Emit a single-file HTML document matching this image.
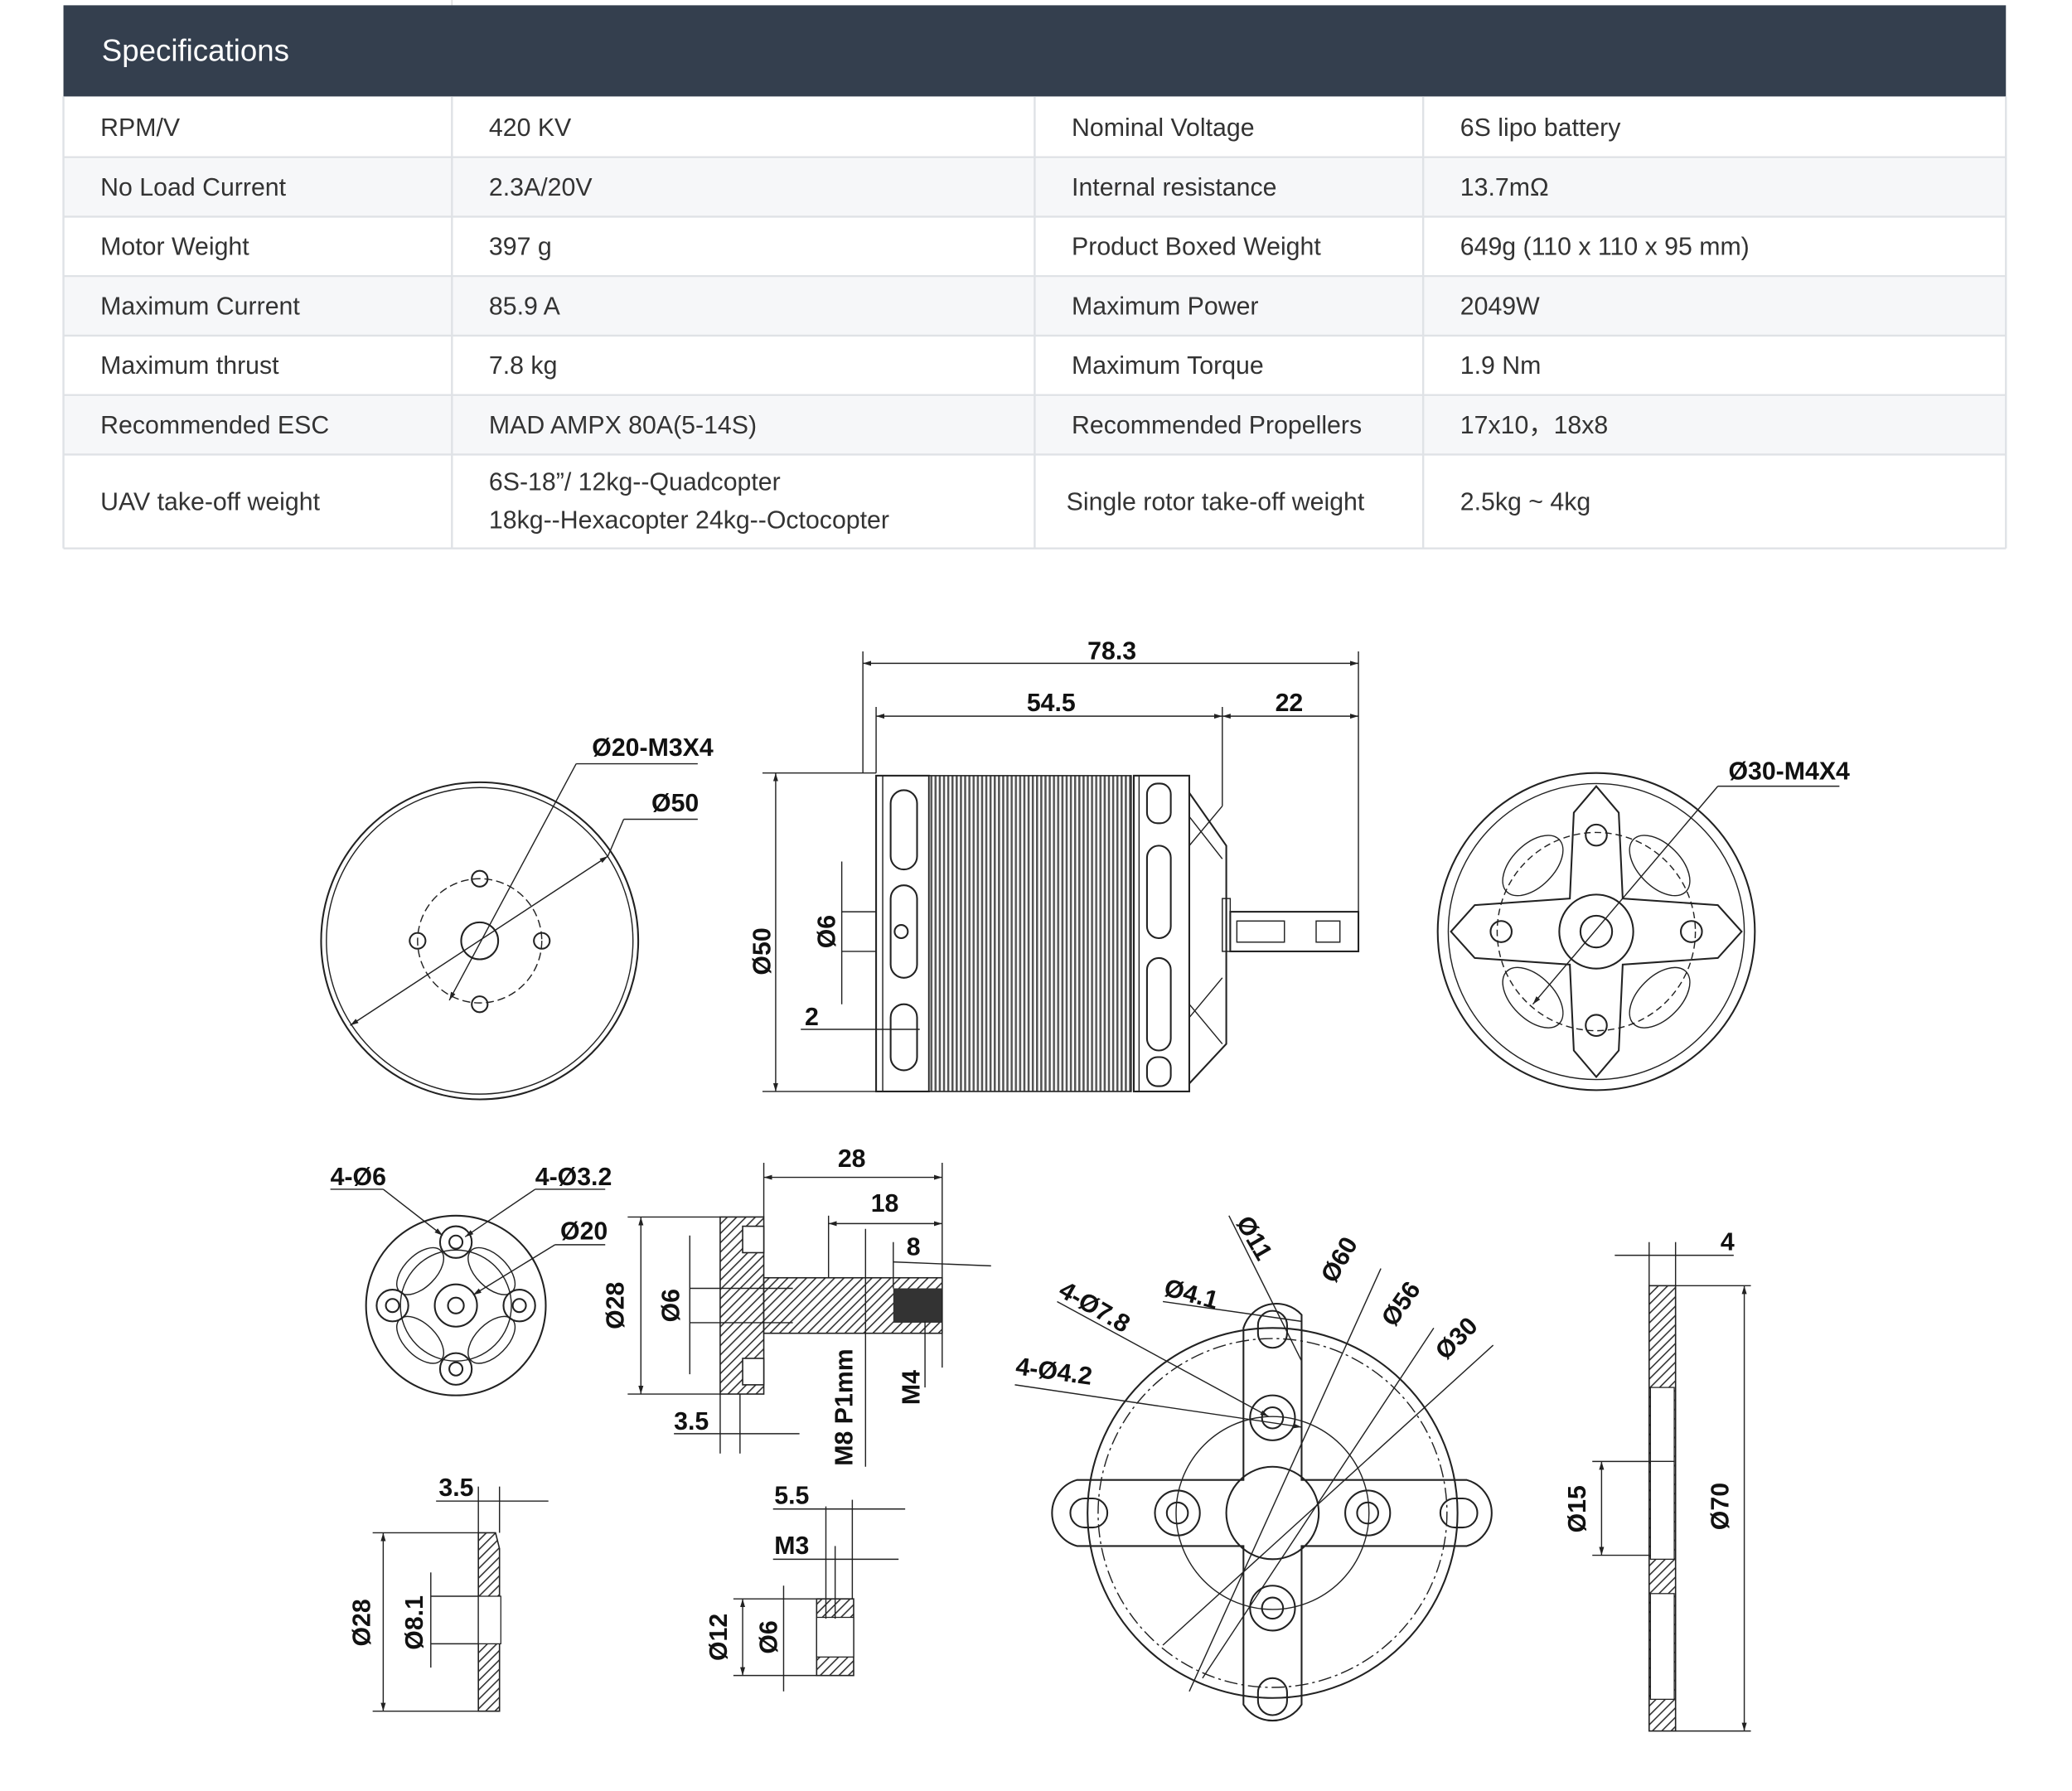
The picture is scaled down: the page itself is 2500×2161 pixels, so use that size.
<!DOCTYPE html>
<html><head><meta charset="utf-8"><style>
html,body{margin:0;padding:0;background:#fff;}
svg{display:block;}
.t{font-family:"Liberation Sans",sans-serif;font-size:19px;fill:#333;}
.d{font-family:"Liberation Sans",sans-serif;font-size:19px;font-weight:bold;fill:#111;}
.l{stroke:#222;stroke-width:1.3;fill:none;}
.th{stroke:#222;stroke-width:0.9;fill:none;}
</style></head><body>
<svg width="2500" height="2161" viewBox="0 0 1568 1355.4" xmlns="http://www.w3.org/2000/svg">
<defs>
<pattern id="fins" width="3.2" height="10" patternUnits="userSpaceOnUse"><rect width="3.2" height="10" fill="#fff"/><rect width="1.6" height="10" fill="#555"/></pattern>
<pattern id="hatch" width="5" height="5" patternUnits="userSpaceOnUse" patternTransform="rotate(45)"><rect width="5" height="5" fill="#fff"/><rect width="1" height="5" fill="#333"/></pattern>
<marker id="a" viewBox="0 0 10 10" refX="10" refY="5" markerWidth="7" markerHeight="7" orient="auto-start-reverse"><path d="M0,2 L10,5 L0,8z" fill="#222"/></marker>
</defs>
<!-- table -->
<line x1="342" y1="0" x2="342" y2="4" stroke="#ddd"/>
<rect x="48" y="4" width="1470" height="69" fill="#343f4e"/>
<text x="77" y="46" style="font-family:'Liberation Sans',sans-serif;font-size:23px;fill:#fff">Specifications</text>
<g fill="#f6f7f9"><rect x="48" y="120" width="1470" height="44"/><rect x="48" y="210" width="1470" height="44"/><rect x="48" y="300" width="1470" height="44"/></g>
<g stroke="#dfe2e6" stroke-width="1.5">
<line x1="48" y1="119" x2="1518" y2="119"/><line x1="48" y1="164" x2="1518" y2="164"/><line x1="48" y1="209" x2="1518" y2="209"/><line x1="48" y1="254" x2="1518" y2="254"/><line x1="48" y1="299" x2="1518" y2="299"/><line x1="48" y1="344" x2="1518" y2="344"/><line x1="48" y1="415" x2="1518" y2="415"/>
<line x1="48" y1="73" x2="48" y2="415"/><line x1="342" y1="73" x2="342" y2="415"/><line x1="783" y1="73" x2="783" y2="415"/><line x1="1077" y1="73" x2="1077" y2="415"/><line x1="1518" y1="73" x2="1518" y2="415"/>
</g>
<g class="t">
<text x="76" y="103">RPM/V</text><text x="370" y="103">420 KV</text><text x="811" y="103">Nominal Voltage</text><text x="1105" y="103">6S lipo battery</text>
<text x="76" y="148">No Load Current</text><text x="370" y="148">2.3A/20V</text><text x="811" y="148">Internal resistance</text><text x="1105" y="148">13.7mΩ</text>
<text x="76" y="193">Motor Weight</text><text x="370" y="193">397 g</text><text x="811" y="193">Product Boxed Weight</text><text x="1105" y="193">649g (110 x 110 x 95 mm)</text>
<text x="76" y="238">Maximum Current</text><text x="370" y="238">85.9 A</text><text x="811" y="238">Maximum Power</text><text x="1105" y="238">2049W</text>
<text x="76" y="283">Maximum thrust</text><text x="370" y="283">7.8 kg</text><text x="811" y="283">Maximum Torque</text><text x="1105" y="283">1.9 Nm</text>
<text x="76" y="328">Recommended ESC</text><text x="370" y="328">MAD AMPX 80A(5-14S)</text><text x="811" y="328">Recommended Propellers</text><text x="1105" y="328">17x10，18x8</text>
<text x="76" y="386">UAV take-off weight</text><text x="370" y="371">6S-18”/ 12kg--Quadcopter</text><text x="370" y="400">18kg--Hexacopter  24kg--Octocopter</text><text x="807" y="386">Single rotor take-off weight</text><text x="1105" y="386">2.5kg ~ 4kg</text>
</g>

<!-- left circle view -->
<circle cx="363" cy="712" r="120" class="l"/><circle cx="363" cy="712" r="116" class="th"/>
<circle cx="363" cy="712" r="47" class="th" stroke-dasharray="6,3"/>
<circle cx="363" cy="712" r="14" class="l"/>
<circle cx="363" cy="665" r="6" class="l"/><circle cx="363" cy="760" r="6" class="l"/><circle cx="316" cy="712" r="6" class="l"/><circle cx="410" cy="712" r="6" class="l"/>
<line x1="265" y1="776" x2="460" y2="648" class="th" marker-start="url(#a)" marker-end="url(#a)"/>
<line x1="460" y1="648" x2="472" y2="620" class="th"/><line x1="472" y1="620" x2="528" y2="620" class="th"/>
<line x1="340" y1="757" x2="436" y2="578" class="th" marker-start="url(#a)"/><line x1="436" y1="578" x2="528" y2="578" class="th"/>
<text x="448" y="572" class="d">Ø20-M3X4</text><text x="493" y="614" class="d">Ø50</text>

<!-- side view motor -->
<line x1="653" y1="493" x2="653" y2="585" class="th"/><line x1="1028" y1="493" x2="1028" y2="720" class="th"/><line x1="663" y1="535" x2="663" y2="585" class="th"/><line x1="925" y1="535" x2="925" y2="610" class="th"/>
<line x1="653" y1="502" x2="1028" y2="502" class="th" marker-start="url(#a)" marker-end="url(#a)"/>
<line x1="663" y1="542" x2="925" y2="542" class="th" marker-start="url(#a)" marker-end="url(#a)"/>
<line x1="925" y1="542" x2="1028" y2="542" class="th" marker-start="url(#a)" marker-end="url(#a)"/>
<text x="823" y="499" class="d">78.3</text><text x="777" y="538" class="d">54.5</text><text x="965" y="538" class="d">22</text>
<line x1="577" y1="585" x2="663" y2="585" class="th"/><line x1="577" y1="826" x2="663" y2="826" class="th"/>
<line x1="587" y1="585" x2="587" y2="826" class="th" marker-start="url(#a)" marker-end="url(#a)"/>
<text x="583" y="720" class="d" transform="rotate(-90 583 720)" text-anchor="middle">Ø50</text>
<line x1="637" y1="652" x2="637" y2="760" class="th"/><line x1="637" y1="690" x2="663" y2="690" class="th"/><line x1="637" y1="720" x2="663" y2="720" class="th"/>
<text x="632" y="705" class="d" transform="rotate(-90 632 705)" text-anchor="middle">Ø6</text>
<line x1="606" y1="779" x2="696" y2="779" class="th"/><text x="609" y="776" class="d">2</text>
<rect x="663" y="587" width="40" height="239" class="l"/><line x1="668" y1="587" x2="668" y2="826" class="th"/>
<g class="l"><rect x="674" y="598" width="20" height="60" rx="10"/><rect x="674" y="670" width="20" height="70" rx="10"/><rect x="674" y="760" width="20" height="50" rx="10"/></g>
<circle cx="682" cy="705" r="5" class="l"/>
<rect x="703" y="587" width="153" height="239" fill="url(#fins)" stroke="#222"/>
<rect x="858" y="587" width="42" height="239" class="l"/><line x1="862" y1="587" x2="862" y2="826" class="th"/>
<g class="l"><rect x="868" y="593" width="18" height="30" rx="8"/><rect x="868" y="640" width="18" height="70" rx="9"/><rect x="868" y="725" width="18" height="70" rx="9"/><rect x="868" y="800" width="18" height="22" rx="8"/></g>
<path d="M900,600 L928,640 L928,790 L900,820" class="l"/>
<path d="M900,618 L925,650 M900,640 L925,610 M900,770 L925,740 M900,760 L925,790" class="th"/>
<rect x="925" y="680" width="6" height="40" class="th"/>
<rect x="931" y="690" width="97" height="30" class="l"/>
<rect x="936" y="697" width="36" height="16" class="th"/><rect x="996" y="697" width="18" height="16" class="th"/>

<!-- right circle view -->
<circle cx="1208" cy="705" r="120" class="l"/><circle cx="1208" cy="705" r="112" class="th"/>
<circle cx="1208" cy="705" r="75" class="th" stroke-dasharray="5,3"/>
<g class="th">
<ellipse cx="1160" cy="655" rx="16" ry="28" transform="rotate(45 1160 655)"/><ellipse cx="1256" cy="655" rx="16" ry="28" transform="rotate(-45 1256 655)"/>
<ellipse cx="1160" cy="755" rx="16" ry="28" transform="rotate(-45 1160 755)"/><ellipse cx="1256" cy="755" rx="16" ry="28" transform="rotate(45 1256 755)"/>
</g>
<path d="M1208,595 L1225,615 L1228,680 L1300,685 L1318,705 L1300,725 L1228,730 L1225,795 L1208,815 L1191,795 L1188,730 L1116,725 L1098,705 L1116,685 L1188,680 L1191,615 Z" class="l" fill="#fff"/>
<circle cx="1208" cy="705" r="28" class="l"/><circle cx="1208" cy="705" r="12" class="l"/>
<circle cx="1208" cy="632" r="8" class="l"/><circle cx="1208" cy="776" r="8" class="l"/><circle cx="1136" cy="705" r="8" class="l"/><circle cx="1280" cy="705" r="8" class="l"/>
<line x1="1160" y1="760" x2="1300" y2="595" class="th" marker-start="url(#a)"/><line x1="1300" y1="595" x2="1392" y2="595" class="th"/>
<text x="1308" y="590" class="d">Ø30-M4X4</text>

<!-- small disc -->
<circle cx="345" cy="988" r="68" class="l"/>
<g class="th"><circle cx="345" cy="988" r="42"/>
<ellipse cx="318" cy="962" rx="12" ry="22" transform="rotate(45 318 962)"/><ellipse cx="372" cy="962" rx="12" ry="22" transform="rotate(-45 372 962)"/><ellipse cx="318" cy="1014" rx="12" ry="22" transform="rotate(-45 318 1014)"/><ellipse cx="372" cy="1014" rx="12" ry="22" transform="rotate(45 372 1014)"/></g>
<g class="l"><circle cx="345" cy="988" r="16"/><circle cx="345" cy="988" r="6"/>
<circle cx="345" cy="940" r="12"/><circle cx="345" cy="940" r="5"/><circle cx="345" cy="1036" r="12"/><circle cx="345" cy="1036" r="5"/><circle cx="297" cy="988" r="12"/><circle cx="297" cy="988" r="5"/><circle cx="393" cy="988" r="12"/><circle cx="393" cy="988" r="5"/></g>
<line x1="250" y1="900" x2="290" y2="900" class="th"/><line x1="290" y1="900" x2="335" y2="935" class="th" marker-end="url(#a)"/>
<line x1="405" y1="900" x2="458" y2="900" class="th"/><line x1="405" y1="900" x2="352" y2="936" class="th" marker-end="url(#a)"/>
<line x1="420" y1="942" x2="458" y2="942" class="th"/><line x1="420" y1="942" x2="358" y2="980" class="th" marker-end="url(#a)"/>
<text x="250" y="897" class="d">4-Ø6</text><text x="405" y="897" class="d">4-Ø3.2</text><text x="424" y="938" class="d">Ø20</text>

<!-- shaft adapter -->
<rect x="545" y="921" width="33" height="134" fill="url(#hatch)" stroke="#222"/>
<rect x="578" y="967" width="135" height="42" fill="url(#hatch)" stroke="#222"/>
<rect x="676" y="975" width="37" height="26" fill="#333"/>
<rect x="562" y="928" width="16" height="20" fill="#fff" stroke="#222"/><rect x="562" y="1028" width="16" height="20" fill="#fff" stroke="#222"/>
<line x1="475" y1="921" x2="545" y2="921" class="th"/><line x1="475" y1="1055" x2="545" y2="1055" class="th"/>
<line x1="485" y1="921" x2="485" y2="1055" class="th" marker-start="url(#a)" marker-end="url(#a)"/>
<text x="472" y="988" class="d" transform="rotate(-90 472 988)" text-anchor="middle">Ø28</text>
<line x1="522" y1="935" x2="522" y2="1040" class="th"/><line x1="522" y1="975" x2="600" y2="975" class="th"/><line x1="522" y1="1001" x2="600" y2="1001" class="th"/>
<text x="514" y="988" class="d" transform="rotate(-90 514 988)" text-anchor="middle">Ø6</text>
<line x1="578" y1="880" x2="578" y2="921" class="th"/><line x1="713" y1="880" x2="713" y2="1035" class="th"/>
<line x1="578" y1="891" x2="713" y2="891" class="th" marker-start="url(#a)" marker-end="url(#a)"/><text x="634" y="883" class="d">28</text>
<line x1="627" y1="920" x2="627" y2="967" class="th"/><line x1="627" y1="926" x2="713" y2="926" class="th" marker-start="url(#a)" marker-end="url(#a)"/><text x="659" y="917" class="d">18</text>
<line x1="676" y1="940" x2="676" y2="975" class="th"/><line x1="676" y1="955" x2="750" y2="958" class="th"/><text x="686" y="950" class="d">8</text>
<line x1="655" y1="930" x2="655" y2="1110" class="th"/><text x="645" y="1065" class="d" transform="rotate(-90 645 1065)" text-anchor="middle">M8 P1mm</text>
<line x1="700" y1="1000" x2="700" y2="1050" class="th"/><text x="696" y="1050" class="d" transform="rotate(-90 696 1050)" text-anchor="middle">M4</text>
<line x1="545" y1="1055" x2="545" y2="1100" class="th"/><line x1="560" y1="1055" x2="560" y2="1100" class="th"/><line x1="510" y1="1085" x2="605" y2="1085" class="th"/><text x="510" y="1082" class="d">3.5</text>

<!-- flange -->
<path d="M941,1005 A26,26 0 0 1 985,995 L985,1120 L1110,1120 A26,26 0 0 1 1110,1170 L985,1170 L985,1290 A26,26 0 0 1 941,1290 L941,1170 L815,1170 A26,26 0 0 1 815,1120 L941,1120 Z" class="l" fill="#fff"/>
<circle cx="963" cy="1145" r="140" class="l"/><circle cx="963" cy="1145" r="132" class="th" stroke-dasharray="10,3,2,3"/>
<circle cx="963" cy="1145" r="73" class="th"/><circle cx="963" cy="1145" r="35" class="l"/>
<g class="l"><circle cx="963" cy="1073" r="17"/><circle cx="963" cy="1073" r="8"/><circle cx="963" cy="1217" r="17"/><circle cx="963" cy="1217" r="8"/><circle cx="891" cy="1145" r="17"/><circle cx="891" cy="1145" r="8"/><circle cx="1035" cy="1145" r="17"/><circle cx="1035" cy="1145" r="8"/>
<rect x="952" y="992" width="22" height="28" rx="11"/><rect x="952" y="1270" width="22" height="28" rx="11"/><rect x="810" y="1134" width="28" height="22" rx="11"/><rect x="1090" y="1134" width="28" height="22" rx="11"/></g>
<line x1="930" y1="920" x2="985" y2="1030" class="th"/><text x="935" y="925" class="d" transform="rotate(60 935 925)">Ø11</text>
<line x1="880" y1="985" x2="985" y2="1000" class="th"/><text x="880" y="980" class="d" transform="rotate(15 880 980)">Ø4.1</text>
<line x1="800" y1="985" x2="960" y2="1072" class="th" marker-end="url(#a)"/><text x="800" y="980" class="d" transform="rotate(30 800 980)">4-Ø7.8</text>
<line x1="768" y1="1048" x2="985" y2="1080" class="th" marker-end="url(#a)"/><text x="768" y="1040" class="d" transform="rotate(8 768 1040)">4-Ø4.2</text>
<line x1="1045" y1="960" x2="900" y2="1280" class="th"/><text x="1010" y="972" class="d" transform="rotate(-60 1010 972)">Ø60</text>
<line x1="1085" y1="1005" x2="910" y2="1270" class="th"/><text x="1055" y="1005" class="d" transform="rotate(-55 1055 1005)">Ø56</text>
<line x1="1130" y1="1018" x2="880" y2="1245" class="th"/><text x="1094" y="1030" class="d" transform="rotate(-45 1094 1030)">Ø30</text>

<!-- right side plate -->
<rect x="1248" y="973" width="20" height="337" fill="url(#hatch)" stroke="#222"/>
<rect x="1249" y="1050" width="18" height="56" fill="#fff" stroke="#222" stroke-width="0.8"/>
<rect x="1249" y="1180" width="18" height="0" fill="#fff"/>
<rect x="1249" y="1206" width="18" height="80" fill="#fff" stroke="#222" stroke-width="0.8"/>
<rect x="1249" y="1106" width="18" height="74" fill="#fff" stroke="#222" stroke-width="0.8"/>
<line x1="1248" y1="940" x2="1248" y2="973" class="th"/><line x1="1268" y1="940" x2="1268" y2="973" class="th"/>
<line x1="1222" y1="950" x2="1312" y2="950" class="th"/><text x="1302" y="946" class="d">4</text>
<line x1="1268" y1="973" x2="1325" y2="973" class="th"/><line x1="1268" y1="1310" x2="1325" y2="1310" class="th"/>
<line x1="1320" y1="973" x2="1320" y2="1310" class="th" marker-start="url(#a)" marker-end="url(#a)"/>
<text x="1308" y="1140" class="d" transform="rotate(-90 1308 1140)" text-anchor="middle">Ø70</text>
<line x1="1205" y1="1106" x2="1249" y2="1106" class="th"/><line x1="1205" y1="1177" x2="1249" y2="1177" class="th"/>
<line x1="1212" y1="1106" x2="1212" y2="1177" class="th" marker-start="url(#a)" marker-end="url(#a)"/>
<text x="1200" y="1142" class="d" transform="rotate(-90 1200 1142)" text-anchor="middle">Ø15</text>

<!-- bottom left washer -->
<path d="M362,1160 L375,1160 L378,1172 L378,1295 L362,1295 Z" fill="url(#hatch)" stroke="#222"/>
<rect x="362" y="1208" width="17" height="36" fill="#fff" stroke="#222" stroke-width="0.8"/>
<line x1="282" y1="1160" x2="362" y2="1160" class="th"/><line x1="282" y1="1295" x2="362" y2="1295" class="th"/>
<line x1="290" y1="1160" x2="290" y2="1295" class="th" marker-start="url(#a)" marker-end="url(#a)"/>
<text x="280" y="1228" class="d" transform="rotate(-90 280 1228)" text-anchor="middle">Ø28</text>
<line x1="326" y1="1190" x2="326" y2="1262" class="th"/><line x1="326" y1="1208" x2="362" y2="1208" class="th"/><line x1="326" y1="1244" x2="362" y2="1244" class="th"/>
<text x="320" y="1228" class="d" transform="rotate(-90 320 1228)" text-anchor="middle">Ø8.1</text>
<line x1="362" y1="1125" x2="362" y2="1160" class="th"/><line x1="378" y1="1125" x2="378" y2="1160" class="th"/><line x1="330" y1="1136" x2="415" y2="1136" class="th"/>
<text x="332" y="1132" class="d">3.5</text>

<!-- bottom middle bushing -->
<rect x="618" y="1210" width="28" height="58" fill="url(#hatch)" stroke="#222"/>
<rect x="618" y="1224" width="28" height="30" fill="#fff" stroke="#222" stroke-width="0.8"/>
<line x1="625" y1="1140" x2="625" y2="1225" class="th"/><line x1="632" y1="1170" x2="632" y2="1225" class="th"/><line x1="645" y1="1135" x2="645" y2="1210" class="th"/>
<line x1="585" y1="1142" x2="685" y2="1142" class="th"/><text x="586" y="1138" class="d">5.5</text>
<line x1="585" y1="1180" x2="680" y2="1180" class="th"/><text x="586" y="1176" class="d">M3</text>
<line x1="555" y1="1210" x2="618" y2="1210" class="th"/><line x1="555" y1="1268" x2="618" y2="1268" class="th"/>
<line x1="562" y1="1210" x2="562" y2="1268" class="th" marker-start="url(#a)" marker-end="url(#a)"/>
<text x="550" y="1239" class="d" transform="rotate(-90 550 1239)" text-anchor="middle">Ø12</text>
<line x1="593" y1="1200" x2="593" y2="1280" class="th"/>
<text x="588" y="1239" class="d" transform="rotate(-90 588 1239)" text-anchor="middle">Ø6</text>
</svg>
</body></html>
